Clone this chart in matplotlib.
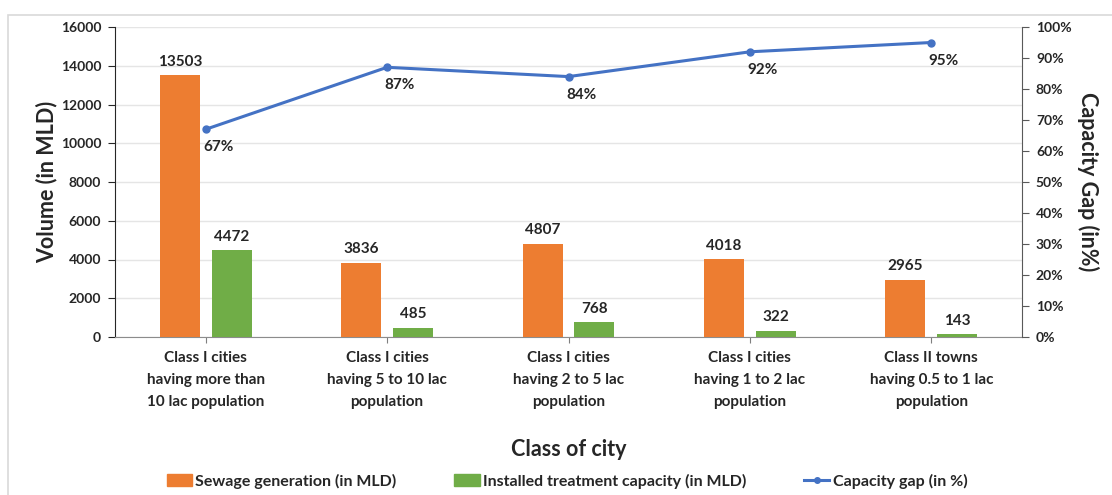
import matplotlib.pyplot as plt
import numpy as np
from matplotlib.patches import Rectangle
from matplotlib.lines import Line2D

# data
categories = ["Class I cities\nhaving more than\n10 lac population",
              "Class I cities\nhaving 5 to 10 lac\npopulation",
              "Class I cities\nhaving 2 to 5 lac\npopulation",
              "Class I cities\nhaving 1 to 2 lac\npopulation",
              "Class II towns\nhaving 0.5 to 1 lac\npopulation"]
sewage = [13503, 3836, 4807, 4018, 2965]
installed = [4472, 485, 768, 322, 143]
gap_pct = [67, 87, 84, 92, 95]

ORANGE = "#ED7D31"
GREEN = "#70AD47"
BLUE = "#4472C4"
TXT = "#262626"

plt.rcParams['font.family'] = ['Lato', 'DejaVu Sans']

fig = plt.figure(figsize=(11.12, 4.95), dpi=100)
# light chart-area border
fig.patches.append(Rectangle((8/1112, -0.1), 1.2, 1 - 15/495 + 0.1,
                             transform=fig.transFigure, fill=False,
                             edgecolor="#D9D9D9", lw=1.2))

ax = fig.add_axes([115/1112, 1 - 337/495, 907/1112, 310/495])
x = np.arange(len(categories))
w = 0.22
off = 0.143

ax.bar(x - off, sewage, w, color=ORANGE, zorder=3)
ax.bar(x + off, installed, w, color=GREEN, zorder=3)

for xi, v in zip(x - off, sewage):
    ax.text(xi, v + 330, str(v), ha="center", va="bottom",
            fontsize=11, fontweight="bold", color=TXT)
for xi, v in zip(x + off, installed):
    ax.text(xi, v + 330, str(v), ha="center", va="bottom",
            fontsize=11, fontweight="bold", color=TXT)

ax.set_xlim(-0.5, len(categories) - 0.5)
ax.set_ylim(0, 16000)
ax.set_yticks(np.arange(0, 16001, 2000))
ax.set_xticks(x)
ax.set_xticklabels(categories, fontsize=11, fontweight="bold",
                   color=TXT, linespacing=1.75)
ax.tick_params(axis="x", length=4, color="#7F7F7F", pad=6)
ax.tick_params(axis="y", length=5, color=TXT, labelsize=10,
               labelcolor=TXT, pad=5)
for lab in ax.get_yticklabels():
    lab.set_fontweight("bold")
ax.grid(axis="y", color="#E5E5E5", lw=1, zorder=0)
for s in ["top", "right"]:
    ax.spines[s].set_visible(False)
ax.spines["left"].set_color(TXT)
ax.spines["bottom"].set_color("#8C8C8C")
ax.set_ylabel("Volume (in MLD)", fontsize=15.5, fontweight="bold",
              color=TXT, labelpad=2)
ax.set_xlabel("Class of city", fontsize=15.5, fontweight="bold",
              color=TXT, labelpad=21)

ax2 = ax.twinx()
ax2.plot(x, gap_pct, color=BLUE, lw=2.2, marker="o", markersize=5, zorder=4)
for xi, v in zip(x, gap_pct):
    ax2.text(xi + 0.07, v - 3.6, f"{v}%", ha="center", va="top",
             fontsize=11, fontweight="bold", color=TXT)
ax2.set_ylim(0, 100)
ax2.set_yticks(np.arange(0, 101, 10))
ax2.set_yticklabels([f"{t}%" for t in range(0, 101, 10)])
ax2.tick_params(axis="y", length=5, color="#595959", labelsize=10,
                labelcolor=TXT, pad=5)
for lab in ax2.get_yticklabels():
    lab.set_fontweight("bold")
for s in ["top", "left", "bottom"]:
    ax2.spines[s].set_visible(False)
ax2.spines["right"].set_color("#595959")
ax2.set_ylabel("Capacity Gap (in%)", fontsize=15.5, fontweight="bold",
               color=TXT, rotation=270, labelpad=20)

handles = [Rectangle((0, 0), 1, 1, color=ORANGE),
           Rectangle((0, 0), 1, 1, color=GREEN),
           Line2D([0], [0], color=BLUE, lw=2.2, marker="o", markersize=4)]
leg = fig.legend(handles, ["Sewage generation (in MLD)",
                           "Installed treatment capacity (in MLD)",
                           "Capacity gap (in %)"],
                 loc="center", bbox_to_anchor=(567/1112, 1 - 481/495), ncol=3,
                 frameon=False, handlelength=1.6, handleheight=0.8,
                 handletextpad=0.2, columnspacing=3.6,
                 prop={"weight": "bold", "size": 11.5})
for t in leg.get_texts():
    t.set_color(TXT)

fig.savefig("out.png", dpi=100)
